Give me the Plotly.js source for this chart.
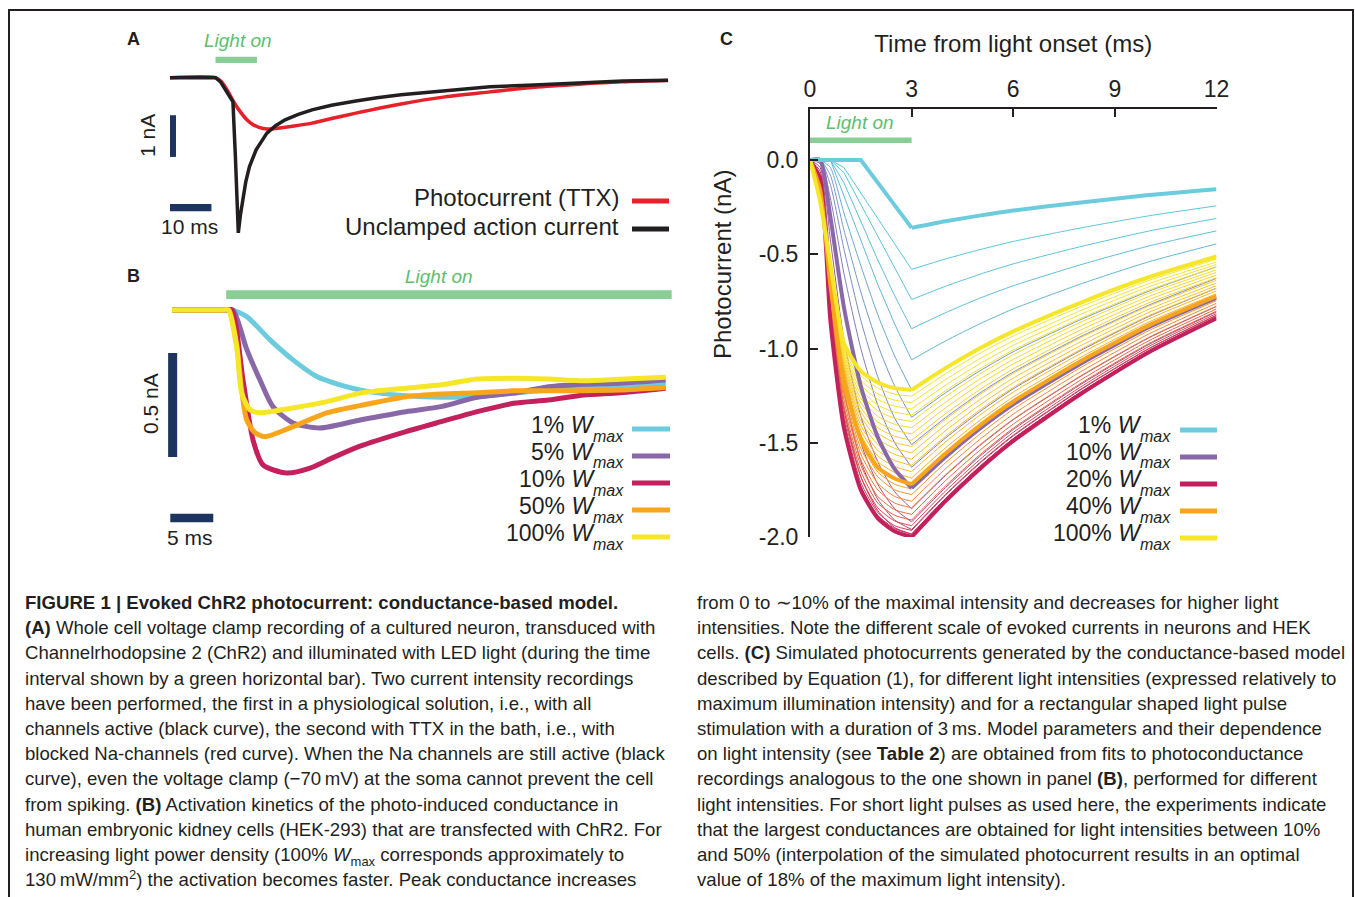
<!DOCTYPE html>
<html><head><meta charset="utf-8">
<script src="https://cdn.plot.ly/plotly-3.0.1.min.js"></script>
<style>
html,body{margin:0;padding:0;background:#fff;}
#wrap{position:relative;width:1355px;height:897px;overflow:hidden;}
#chart{position:absolute;left:0;top:0;width:1355px;height:897px;}
#caption{position:absolute;left:0;top:0;width:1355px;height:897px;pointer-events:none;}
.cap{position:absolute;white-space:nowrap;font-family:"Liberation Sans",Arial,Helvetica,sans-serif;font-size:18.6px;line-height:22px;color:#231F20;}
.cap sub,.cap sup{font-size:13px;line-height:0;}
</style>
</head><body><div id="wrap"><div id="chart"></div><div id="caption"></div></div>
<script>
// ---------------- Panel A data (ms, nA) ----------------
const tRedA = [0, 11, 12.5, 14, 15.5, 17, 18.5, 20, 21.5, 23.4, 26, 30, 34.3, 39, 44.9, 55.8, 66.4, 77.3, 87.9, 98.8, 109.4, 120.3];
const iRedA = [0, 0, -0.1, -0.33, -0.6, -0.82, -1.0, -1.12, -1.19, -1.23, -1.21, -1.16, -1.09, -0.98, -0.85, -0.63, -0.46, -0.34, -0.23, -0.155, -0.1, -0.07];
const tBlackA = [0, 11, 12.2, 13.5, 15.2, 15.8, 16.5, 17.0, 17.6, 18.3, 19.2, 20.8, 23.4, 25.5, 27.8, 31, 34.3, 39, 44.9, 50, 55.8, 66.4, 77.3, 87.9, 98.8, 109.4, 120.3];
const iBlackA = [0, 0, -0.1, -0.3, -0.58, -1.9, -3.72, -3.3, -2.94, -2.5, -2.13, -1.73, -1.33, -1.15, -1.01, -0.88, -0.77, -0.66, -0.56, -0.48, -0.41, -0.31, -0.22, -0.175, -0.12, -0.08, -0.06];
const legendA = ['Photocurrent (TTX)', 'Unclamped action current'];

// ---------------- Panel B data (ms, nA) ----------------
const tB1 = [0, 6.16, 6.94, 8.69, 11.4, 14.07, 16.83, 19.53, 21.86, 23.0, 27.2, 31.3, 35.5, 39.7, 43.8, 47.9, 52.1, 57.4];
const iB1 = [0, 0, 0, -0.032, -0.144, -0.24, -0.32, -0.36, -0.385, -0.394, -0.413, -0.42, -0.417, -0.40, -0.385, -0.376, -0.369, -0.352];
const tB5 = [0, 6.16, 7.09, 8.69, 10.23, 11.74, 14.07, 17.2, 21.86, 27.2, 31.3, 35.5, 39.7, 43.8, 47.9, 52.1, 57.4];
const iB5 = [0, 0, 0, -0.19, -0.337, -0.465, -0.543, -0.567, -0.529, -0.489, -0.465, -0.42, -0.40, -0.369, -0.357, -0.352, -0.337];
const tB10 = [0, 6.16, 6.94, 8.26, 9.42, 10.58, 13.34, 16.05, 18.72, 21.86, 27.2, 31.3, 35.5, 39.7, 43.8, 47.9, 52.1, 57.4];
const iB10 = [0, 0, 0, -0.337, -0.625, -0.745, -0.784, -0.76, -0.71, -0.655, -0.585, -0.537, -0.489, -0.449, -0.433, -0.409, -0.398, -0.376];
const tB50 = [0, 6.16, 6.63, 7.52, 8.1, 8.69, 9.65, 10.81, 14.07, 17.99, 21.86, 27.2, 31.3, 35.5, 39.7, 43.8, 47.9, 52.1, 57.4];
const iB50 = [0, 0, 0, -0.168, -0.385, -0.529, -0.59, -0.609, -0.561, -0.495, -0.46, -0.417, -0.404, -0.398, -0.389, -0.388, -0.388, -0.385, -0.373];
const tB100 = [0, 6.16, 6.55, 7.52, 8.1, 9.07, 10.23, 14.07, 17.99, 21.86, 27.2, 31.3, 35.5, 39.7, 43.8, 47.9, 52.1, 57.4];
const iB100 = [0, 0, 0, -0.176, -0.399, -0.48, -0.494, -0.471, -0.441, -0.40, -0.376, -0.36, -0.332, -0.328, -0.332, -0.34, -0.333, -0.324];
const legendB = ['1%', '5%', '10%', '50%', '100%'];

// ---------------- Panel C data (ms, nA) ----------------
const tC = [0, 0.3, 0.6, 1, 1.5, 2, 2.5, 3, 4, 5, 6, 8, 10, 12];
const c01 = [0, 0, 0, 0, 0, -0.12, -0.24, -0.36, -0.325, -0.295, -0.268, -0.225, -0.186, -0.155];
const c02 = [0, 0, 0, -0.04, -0.175, -0.31, -0.445, -0.58, -0.525, -0.476, -0.432, -0.36, -0.296, -0.243];
const c03 = [0, 0, 0, -0.067, -0.235, -0.40, -0.57, -0.74, -0.67, -0.607, -0.551, -0.459, -0.377, -0.31];
const c04 = [0, 0, 0, -0.12, -0.33, -0.53, -0.72, -0.895, -0.81, -0.734, -0.667, -0.555, -0.456, -0.376];
const c05 = [0, 0, 0, -0.19, -0.43, -0.66, -0.87, -1.06, -0.96, -0.87, -0.79, -0.657, -0.54, -0.445];
const c06 = [0, 0, -0.04, -0.28, -0.56, -0.82, -1.04, -1.22, -1.105, -1.0, -0.91, -0.757, -0.622, -0.51];
const c07 = [0, 0, -0.08, -0.37, -0.70, -0.98, -1.20, -1.365, -1.235, -1.12, -1.017, -0.846, -0.696, -0.566];
const c08 = [0, 0, -0.13, -0.47, -0.85, -1.15, -1.37, -1.51, -1.367, -1.238, -1.125, -0.936, -0.77, -0.628];
const c09 = [0, 0, -0.2, -0.6, -1.0, -1.3, -1.50, -1.63, -1.475, -1.337, -1.214, -1.01, -0.83, -0.68];
const c10 = [0, 0, -0.3, -0.78, -1.2, -1.47, -1.64, -1.74, -1.575, -1.427, -1.296, -1.079, -0.887, -0.731];
const c12 = [0, -0.02, -0.42, -0.95, -1.36, -1.6, -1.76, -1.85, -1.674, -1.517, -1.378, -1.147, -0.944, -0.777];
const c14 = [0, -0.04, -0.55, -1.1, -1.5, -1.72, -1.85, -1.92, -1.738, -1.574, -1.43, -1.19, -0.979, -0.806];
const c16 = [0, -0.06, -0.66, -1.22, -1.6, -1.8, -1.91, -1.96, -1.774, -1.607, -1.46, -1.215, -1.0, -0.823];
const c18 = [0, -0.08, -0.75, -1.32, -1.68, -1.86, -1.95, -1.985, -1.796, -1.628, -1.479, -1.231, -1.012, -0.834];
const c20 = [0, -0.1, -0.85, -1.42, -1.75, -1.9, -1.97, -2.0, -1.81, -1.64, -1.49, -1.24, -1.02, -0.84];
const c22 = [0, -0.11, -0.83, -1.40, -1.73, -1.885, -1.955, -1.985, -1.796, -1.628, -1.479, -1.231, -1.012, -0.834];
const c24 = [0, -0.11, -0.81, -1.37, -1.71, -1.87, -1.94, -1.965, -1.778, -1.611, -1.464, -1.218, -1.002, -0.825];
const c26 = [0, -0.12, -0.79, -1.35, -1.68, -1.845, -1.915, -1.94, -1.756, -1.591, -1.445, -1.203, -0.989, -0.815];
const c28 = [0, -0.12, -0.77, -1.32, -1.65, -1.82, -1.885, -1.91, -1.729, -1.566, -1.423, -1.184, -0.974, -0.802];
const c30 = [0, -0.13, -0.75, -1.30, -1.62, -1.785, -1.855, -1.88, -1.701, -1.542, -1.401, -1.166, -0.959, -0.79];
const c32 = [0, -0.14, -0.73, -1.27, -1.59, -1.75, -1.82, -1.845, -1.67, -1.513, -1.375, -1.144, -0.941, -0.775];
const c34 = [0, -0.14, -0.71, -1.24, -1.56, -1.715, -1.785, -1.81, -1.638, -1.484, -1.348, -1.122, -0.923, -0.76];
const c36 = [0, -0.15, -0.70, -1.22, -1.53, -1.68, -1.75, -1.775, -1.606, -1.456, -1.322, -1.1, -0.905, -0.746];
const c38 = [0, -0.15, -0.68, -1.19, -1.50, -1.655, -1.72, -1.745, -1.579, -1.431, -1.3, -1.082, -0.89, -0.733];
const c40 = [0, -0.16, -0.66, -1.17, -1.48, -1.63, -1.69, -1.72, -1.557, -1.41, -1.281, -1.066, -0.877, -0.722];
const c44 = [0, -0.164, -0.653, -1.157, -1.456, -1.60, -1.658, -1.687, -1.527, -1.383, -1.257, -1.046, -0.86, -0.709];
const c48 = [0, -0.168, -0.645, -1.143, -1.432, -1.57, -1.626, -1.653, -1.496, -1.355, -1.231, -1.025, -0.843, -0.694];
const c52 = [0, -0.172, -0.638, -1.13, -1.408, -1.54, -1.594, -1.62, -1.466, -1.328, -1.207, -1.004, -0.826, -0.68];
const c56 = [0, -0.176, -0.631, -1.117, -1.384, -1.51, -1.562, -1.587, -1.436, -1.301, -1.182, -0.984, -0.809, -0.667];
const c60 = [0, -0.18, -0.623, -1.103, -1.36, -1.48, -1.53, -1.553, -1.405, -1.273, -1.157, -0.963, -0.792, -0.652];
const c64 = [0, -0.184, -0.616, -1.09, -1.336, -1.45, -1.498, -1.52, -1.376, -1.246, -1.132, -0.942, -0.775, -0.638];
const c68 = [0, -0.188, -0.609, -1.077, -1.312, -1.42, -1.466, -1.487, -1.346, -1.219, -1.108, -0.922, -0.758, -0.625];
const c72 = [0, -0.192, -0.601, -1.063, -1.288, -1.39, -1.434, -1.453, -1.315, -1.191, -1.082, -0.901, -0.741, -0.61];
const c76 = [0, -0.196, -0.594, -1.05, -1.264, -1.36, -1.402, -1.42, -1.285, -1.164, -1.058, -0.88, -0.724, -0.596];
const c80 = [0, -0.2, -0.587, -1.037, -1.24, -1.33, -1.37, -1.387, -1.255, -1.137, -1.033, -0.86, -0.707, -0.583];
const c84 = [0, -0.204, -0.579, -1.023, -1.216, -1.30, -1.338, -1.353, -1.224, -1.109, -1.008, -0.839, -0.69, -0.568];
const c88 = [0, -0.208, -0.572, -1.01, -1.192, -1.27, -1.306, -1.32, -1.195, -1.082, -0.983, -0.818, -0.673, -0.554];
const c92 = [0, -0.212, -0.565, -0.997, -1.168, -1.24, -1.274, -1.287, -1.165, -1.055, -0.959, -0.798, -0.656, -0.541];
const c96 = [0, -0.216, -0.557, -0.983, -1.144, -1.21, -1.242, -1.253, -1.134, -1.027, -0.933, -0.777, -0.639, -0.526];
const c100 = [0, -0.22, -0.55, -0.97, -1.12, -1.18, -1.21, -1.22, -1.104, -1.0, -0.909, -0.756, -0.622, -0.512];
const legendC = ['1%', '10%', '20%', '40%', '100%'];
const xTicksC = [0, 3, 6, 9, 12];
const yTicksC = [0, -0.5, -1.0, -1.5, -2.0];
const yTickTextC = ['0.0', '-0.5', '-1.0', '-1.5', '-2.0'];

// ---------------- Caption text ----------------
const captionLeft = [
  '<b>FIGURE 1 | Evoked ChR2 photocurrent: conductance-based model.</b>',
  '<b>(A)</b> Whole cell voltage clamp recording of a cultured neuron, transduced with',
  'Channelrhodopsine 2 (ChR2) and illuminated with LED light (during the time',
  'interval shown by a green horizontal bar). Two current intensity recordings',
  'have been performed, the first in a physiological solution, i.e., with all',
  'channels active (black curve), the second with TTX in the bath, i.e., with',
  'blocked Na-channels (red curve). When the Na channels are still active (black',
  'curve), even the voltage clamp (\u221270\u2009mV) at the soma cannot prevent the cell',
  'from spiking. <b>(B)</b> Activation kinetics of the photo-induced conductance in',
  'human embryonic kidney cells (HEK-293) that are transfected with ChR2. For',
  'increasing light power density (100% <i>W</i><sub>max</sub> corresponds approximately to',
  '130\u2009mW/mm<sup>2</sup>) the activation becomes faster. Peak conductance increases'
];
const captionRight = [
  'from 0 to \u223C10% of the maximal intensity and decreases for higher light',
  'intensities. Note the different scale of evoked currents in neurons and HEK',
  'cells. <b>(C)</b> Simulated photocurrents generated by the conductance-based model',
  'described by Equation (1), for different light intensities (expressed relatively to',
  'maximum illumination intensity) and for a rectangular shaped light pulse',
  'stimulation with a duration of 3\u2009ms. Model parameters and their dependence',
  'on light intensity (see <b>Table 2</b>) are obtained from fits to photoconductance',
  'recordings analogous to the one shown in panel <b>(B)</b>, performed for different',
  'light intensities. For short light pulses as used here, the experiments indicate',
  'that the largest conductances are obtained for light intensities between 10%',
  'and 50% (interpolation of the simulated photocurrent results in an optimal',
  'value of 18% of the maximum light intensity).'
];

// ---------------- helpers & styles ----------------
const W = 1355, H = 897;
const px = x => x / W;
const py = y => 1 - y / H;
const SANS = 'Liberation Sans, Arial, Helvetica, sans-serif';
const INK = '#231F20';
const NAVY = '#1D3461';
const GREEN = 'rgba(104,192,120,0.78)';
const GREEN_TXT = '#5DBE6E';
const COL = {c1: '#6CCBDC', c10: '#8868A6', c20: '#C2215D', c40: '#F9A51B', c100: '#F6E628'};

const traces = [];
// Panel A
traces.push({x: tRedA, y: iRedA, xaxis: 'x', yaxis: 'y', mode: 'lines', line: {color: '#E8202A', width: 3.5, shape: 'spline', smoothing: 0.8}, hoverinfo: 'skip', name: legendA[0]});
traces.push({x: tBlackA, y: iBlackA, xaxis: 'x', yaxis: 'y', mode: 'lines', line: {color: INK, width: 3.5}, hoverinfo: 'skip', name: legendA[1]});

// Panel B
const bSeries = [[tB1, iB1, COL.c1], [tB5, iB5, COL.c10], [tB10, iB10, COL.c20], [tB50, iB50, COL.c40], [tB100, iB100, COL.c100]];
bSeries.forEach((s, k) => traces.push({x: s[0], y: s[1], xaxis: 'x2', yaxis: 'y2', mode: 'lines', line: {color: s[2], width: 5, shape: 'spline', smoothing: 0.7}, hoverinfo: 'skip', name: legendB[k]}));

// Panel C: each curve drawn as rising part (to the 3 ms peak) + decay part, so the peak stays a sharp corner
const iPeak = tC.indexOf(3);
function addC(y, color, width, straight, name) {
  traces.push({x: tC.slice(0, iPeak + 1), y: y.slice(0, iPeak + 1), xaxis: 'x3', yaxis: 'y3', mode: 'lines',
    line: {color: color, width: width, shape: straight ? 'linear' : 'spline', smoothing: 0.6}, hoverinfo: 'skip', name: name});
  traces.push({x: tC.slice(iPeak), y: y.slice(iPeak), xaxis: 'x3', yaxis: 'y3', mode: 'lines',
    line: {color: color, width: width, shape: 'spline', smoothing: 0.6}, hoverinfo: 'skip', name: name});
}
const thin = [
  [c02, '#5BC6DA', 1], [c03, '#5BC3DA', 1], [c04, '#5DBED8', 1], [c05, '#62B6D5', 1], [c06, '#6BA8CF', 0], [c07, '#7698C8', 0], [c08, '#7D8BC0', 0], [c09, '#837CB5', 0],
  [c12, '#9A5C99', 0], [c14, '#A84C88', 0], [c16, '#B43D77', 0], [c18, '#BD3068', 0],
  [c22, '#CA2E5A', 0], [c24, '#D33B53', 0], [c26, '#DB4A4C', 0], [c28, '#E25945', 0], [c30, '#E8683E', 0], [c32, '#EE7737', 0], [c34, '#F28630', 0], [c36, '#F59429', 0], [c38, '#F8A023', 0],
  [c44, '#F9B322', 0], [c48, '#F9B823', 0], [c52, '#F9BD24', 0], [c56, '#F9C225', 0], [c60, '#F8C626', 0], [c64, '#F8CB27', 0], [c68, '#F8CF28', 0], [c72, '#F8D429', 0], [c76, '#F7D829', 0], [c80, '#F7DC2A', 0], [c84, '#F7DF2A', 0], [c88, '#F7E22B', 0], [c92, '#F6E42B', 0], [c96, '#F6E52B', 0]
];
thin.forEach(s => addC(s[0], s[1], 1, s[2] === 1, ''));
addC(c20, COL.c20, 4, false, '20%');
addC(c10, COL.c10, 4, false, '10%');
addC(c40, COL.c40, 4, false, '40%');
addC(c01, COL.c1, 4, true, '1%');
addC(c100, COL.c100, 4, false, '100%');

// ---------------- shapes ----------------
const shapes = [
  {type: 'line', xref: 'paper', yref: 'paper', x0: px(8), x1: px(1354), y0: py(10), y1: py(10), line: {color: INK, width: 2}},
  {type: 'line', xref: 'paper', yref: 'paper', x0: px(9), x1: px(9), y0: py(10), y1: py(897), line: {color: INK, width: 2}},
  {type: 'line', xref: 'paper', yref: 'paper', x0: px(1353), x1: px(1353), y0: py(10), y1: py(897), line: {color: INK, width: 2}},
  // Panel A scale bars (10 ms, 1 nA) and light bar
  {type: 'rect', xref: 'x', yref: 'y', x0: -0.5, x1: 1.45, y0: -0.9, y1: -1.9, fillcolor: NAVY, line: {width: 0}},
  {type: 'rect', xref: 'x', yref: 'y', x0: 0, x1: 10, y0: -3.03, y1: -3.2, fillcolor: NAVY, line: {width: 0}},
  {type: 'rect', xref: 'x', yref: 'y', x0: 11, x1: 21, y0: 0.35, y1: 0.5, fillcolor: GREEN, line: {width: 0}},
  // Panel B scale bars (5 ms, 0.5 nA) and light bar
  {type: 'rect', xref: 'x2', yref: 'y2', x0: -0.45, x1: 0.6, y0: -0.207, y1: -0.707, fillcolor: NAVY, line: {width: 0}},
  {type: 'rect', xref: 'x2', yref: 'y2', x0: -0.2, x1: 4.8, y0: -0.98, y1: -1.02, fillcolor: NAVY, line: {width: 0}},
  {type: 'rect', xref: 'x2', yref: 'y2', x0: 6.3, x1: 58.1, y0: 0.053, y1: 0.095, fillcolor: GREEN, line: {width: 0}},
  // Panel C light bar (3 ms)
  {type: 'rect', xref: 'x3', yref: 'y3', x0: 0, x1: 3, y0: 0.09, y1: 0.12, fillcolor: GREEN, line: {width: 0}}
];
const legAy = [201, 229];
const legAcol = ['#E8202A', INK];
legAy.forEach((y, k) => shapes.push({type: 'line', xref: 'paper', yref: 'paper', x0: px(632), x1: px(669), y0: py(y), y1: py(y), line: {color: legAcol[k], width: 5}}));
const legRowY = [429, 456, 483, 510, 537];
const legBcol = [COL.c1, COL.c10, COL.c20, COL.c40, COL.c100];
legRowY.forEach((y, k) => shapes.push({type: 'line', xref: 'paper', yref: 'paper', x0: px(632), x1: px(670), y0: py(y), y1: py(y), line: {color: legBcol[k], width: 5}}));
legRowY.forEach((y, k) => shapes.push({type: 'line', xref: 'paper', yref: 'paper', x0: px(1180), x1: px(1217), y0: py(y + 1), y1: py(y + 1), line: {color: legBcol[k], width: 5}}));

// ---------------- annotations ----------------
const ann = [];
const txt = (x, y, text, opt) => ann.push(Object.assign({xref: 'paper', yref: 'paper', x: px(x), y: py(y), text: text, showarrow: false, xanchor: 'center', yanchor: 'middle', font: {family: SANS, size: 21, color: INK}}, opt || {}));
const boldFont = {family: SANS, size: 18, color: INK, weight: 'bold'};
txt(133, 39, 'A', {font: boldFont});
txt(133, 276, 'B', {font: boldFont});
txt(727, 39, 'C', {font: boldFont});
const greenFont = {family: SANS, size: 19, color: GREEN_TXT, style: 'italic'};
txt(238, 40, 'Light on', {font: greenFont});
txt(439, 276, 'Light on', {font: greenFont});
txt(860, 122, 'Light on', {font: greenFont});
txt(148, 136, '1 nA', {textangle: -90});
txt(189, 227, '10 ms');
txt(150, 404, '0.5 nA', {textangle: -90});
txt(190, 537, '5 ms');
txt(621, 197, legendA[0], {xanchor: 'right', font: {family: SANS, size: 24, color: INK}});
txt(621, 226, legendA[1], {xanchor: 'right', font: {family: SANS, size: 24, color: INK}});
// legend rows: "1% W" with a lowered small italic "max"
const legFont = {family: SANS, size: 23, color: INK};
const subFont = {family: SANS, size: 16, color: INK, style: 'italic'};
function legendRow(xRight, y, pct) {
  txt(xRight - 29, y - 4, pct + ' <i>W</i>', {xanchor: 'right', font: legFont});
  txt(xRight, y + 7, 'max', {xanchor: 'right', font: subFont});
}
legRowY.forEach((y, k) => legendRow(626, y, legendB[k]));
legRowY.forEach((y, k) => legendRow(1173, y, legendC[k]));
txt(722, 265, 'Photocurrent (nA)', {textangle: -90, font: {family: SANS, size: 24, color: INK}});

const hidden = {visible: false, showgrid: false, zeroline: false, fixedrange: true};
const layout = {
  width: W, height: H,
  margin: {l: 0, r: 0, t: 0, b: 0},
  paper_bgcolor: '#fff', plot_bgcolor: 'rgba(0,0,0,0)',
  showlegend: false,
  font: {family: SANS, color: INK},
  xaxis: Object.assign({domain: [px(170), px(670)], range: [0, 120.77], anchor: 'y'}, hidden),
  yaxis: Object.assign({domain: [py(240), py(40)], range: [-3.892, 0.904], anchor: 'x'}, hidden),
  xaxis2: Object.assign({domain: [px(160), px(680)], range: [-1.395, 59.07], anchor: 'y2'}, hidden),
  yaxis2: Object.assign({domain: [py(560), py(260)], range: [-1.202, 0.240], anchor: 'x2'}, hidden),
  xaxis3: {
    domain: [px(810), px(1216.5)], range: [0, 12], anchor: 'y3', side: 'top',
    showline: true, linecolor: INK, linewidth: 2, ticks: 'inside', ticklen: 8, tickwidth: 2, tickcolor: INK,
    tickvals: xTicksC, ticktext: xTicksC.map(String), tickfont: {family: SANS, size: 23, color: INK},
    ticklabelstandoff: 1, showgrid: false, zeroline: false,
    title: {text: 'Time from light onset (ms)', font: {family: SANS, size: 24, color: INK}, standoff: 16}
  },
  yaxis3: {
    domain: [py(537), py(109)], range: [-2.0, 0.2707], anchor: 'x3',
    showline: true, linecolor: INK, linewidth: 2, ticks: 'inside', ticklen: 8, tickwidth: 2, tickcolor: INK,
    tickvals: yTicksC, ticktext: yTickTextC, tickfont: {family: SANS, size: 23, color: INK},
    ticklabelstandoff: 5, showgrid: false, zeroline: false
  },
  shapes: shapes,
  annotations: ann
};
Plotly.newPlot('chart', traces, layout, {staticPlot: true, displayModeBar: false});

// Caption as page text below the panels
const capBox = document.getElementById('caption');
const capY0 = 603, capDY = 25.2, capLH = 22;
function addCaption(lines, left) {
  lines.forEach((s, k) => {
    const d = document.createElement('div');
    d.className = 'cap';
    d.style.left = left + 'px';
    d.style.top = (capY0 + k * capDY - capLH / 2) + 'px';
    d.innerHTML = s;
    capBox.appendChild(d);
  });
}
addCaption(captionLeft, 25);
addCaption(captionRight, 697);
</script></body></html>
